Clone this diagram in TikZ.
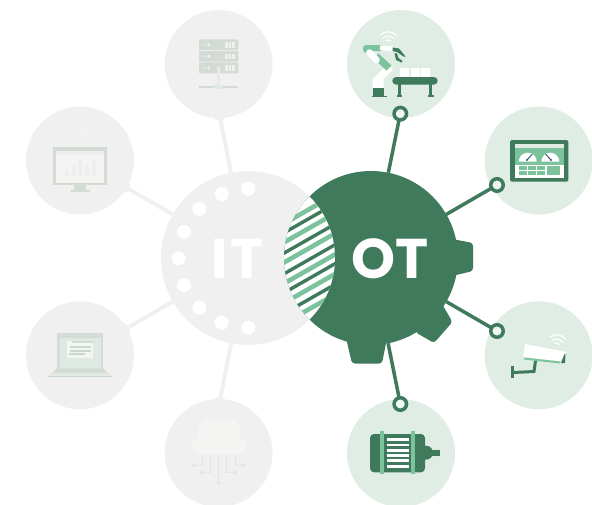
\documentclass[tikz,border=0pt]{standalone}
\usepackage{fontspec}
\newfontfamily\labelfont{Poppins}
\definecolor{dkgreen}{HTML}{3E7A5B}
\definecolor{ltgreen}{HTML}{7CC29C}
\definecolor{palegreen}{HTML}{DFEDE4}
\definecolor{itgray}{HTML}{F0F0F0}
\definecolor{icongray}{HTML}{D4DBD5}
\definecolor{iconpale}{HTML}{DFE9E3}
\definecolor{iconlight}{HTML}{F4F4F2}
\definecolor{iconmid}{HTML}{C9D8CE}
\definecolor{needle}{HTML}{3D5A7A}
\definecolor{pinfill}{HTML}{F0F7F3}
\tikzset{
  sat/.style={circle,inner sep=0pt,outer sep=0pt,minimum size=108pt},
  otsat/.style={sat,fill=palegreen},
  itsat/.style={sat,fill=itgray},
  bigdisc/.style={circle,inner sep=0pt,outer sep=0pt,minimum size=174pt},
  otpin/.style={circle,inner sep=0pt,outer sep=0pt,minimum size=12.5pt,draw=dkgreen,line width=3.5pt,fill=pinfill},
  itpin/.style={circle,inner sep=0pt,outer sep=0pt,minimum size=16pt,fill=itgray},
  otlink/.style={draw=dkgreen,line width=3.5pt},
  itlink/.style={draw=itgray,line width=4pt},
  biglabel/.style={text=white,font=\labelfont\bfseries\fontsize{56}{56}\selectfont,inner sep=0pt},
  wifi/.style={line width=1.2pt,line cap=round},
  hole/.style={fill=white}
}
\newcommand{\arcs}[5]{% x y centreangle colour scale
  \foreach \r in {11.5,7.2,3.4}{
    \draw[wifi,#4] (#1,#2) ++({#3-45}:\r pt) arc[start angle={#3-45},end angle={#3+45},radius=\r pt];
  }}
\begin{document}
\begin{tikzpicture}[x=1pt,y=-1pt]
\useasboundingbox (0,0) rectangle (592,504);
\clip (0,0) rectangle (592,504);
% satellites
\node[otsat] (robot) at (401,64) {};
\node[otsat] (hmi) at (538.7,160.5) {};
\node[otsat] (camera) at (538.7,355.3) {};
\node[otsat] (motor) at (401,453) {};
\node[itsat] (server) at (218.6,64) {};
\node[itsat] (screen) at (80,160.5) {};
\node[itsat] (laptop) at (80,355.3) {};
\node[itsat] (cloud) at (218.6,453) {};
% discs and pins
\node[bigdisc,fill=itgray] (it) at (248,258) {};
\node[itpin] (pin5) at (219,112.5) {};
\node[itpin] (pin6) at (122,185) {};
\node[itpin] (pin7) at (122,331) {};
\node[itpin] (pin8) at (219,405) {};
\draw[itlink] (it) -- (pin5);
\draw[itlink] (it) -- (pin6);
\draw[itlink] (it) -- (pin7);
\draw[itlink] (it) -- (pin8);
\node[bigdisc] (ot) at (371,258) {};
\node[otpin] (pin1) at (400.3,113.7) {};
\node[otpin] (pin2) at (497,185) {};
\node[otpin] (pin3) at (497,331) {};
\node[otpin] (pin4) at (400.3,404) {};
\draw[otlink] (ot) -- (pin1);
\draw[otlink] (ot) -- (pin2);
\draw[otlink] (ot) -- (pin3);
\draw[otlink] (ot) -- (pin4);
% gear
\fill[dkgreen] (371,258) circle (87pt);
\fill[dkgreen,rounded corners=3pt] (452,239) -- (473,243) -- (473,271) -- (452,276) -- cycle;
\fill[dkgreen,rounded corners=3pt] (346,338) -- (352,363.5) -- (382,363.5) -- (387,338) -- cycle;
\fill[dkgreen,rounded corners=3pt] (442,304) -- (452.5,322) -- (434,343) -- (415,332) -- cycle;
% white dots on IT
\foreach \x/\y in {248.3/188.7,221.7/194,199.3/209,184/231.7,178.7/258.3,184/285,199.3/307.7,221.7/322.7,248.3/327.7}
  \fill[hole] (\x,\y) circle (7pt);
% lens
\begin{scope}
\clip (248,258) circle (87pt);
\clip (371,258) circle (87pt);
\fill[white] (270,190) rectangle (350,330);
\foreach \y in {208.8,227.6,247.7,268.7,288.2,308.6}
  \draw[ltgreen,line width=4.6pt] (270,\y+22.8) -- (350,\y-22.8);
\foreach \y in {218,238.3,259,278,298.7}
  \draw[dkgreen,line width=3.4pt] (270,\y+22.8) -- (350,\y-22.8);
\end{scope}
\node[biglabel] (itlabel) at (237.5,258.5) {I\kern2.5pt T};
\node[biglabel] (otlabel) at (390,258.5) {OT};
% ---- robot
\arcs{388.3}{43.3}{90}{white}{1}
\fill[white] (372.5,88.5) -- (383.5,88.5) -- (383.5,79) -- (393,69.5) -- (388,64.5) -- (372.5,79) -- cycle;
\fill[dkgreen] (372.7,88.3) rectangle (384,95.7);
\fill[dkgreen] (372,95.7) rectangle (387,97);
\draw[ltgreen,line width=7pt] (389,68) -- (376,56);
\draw[ltgreen,line width=6pt,line join=round] (367,52) -- (366,48) -- (381,48);
\draw[white,line width=6.5pt,line cap=round] (376.5,60) -- (369.5,52.5);
\draw[white,line width=4.5pt] (380,47.8) -- (393,49);
\fill[dkgreen] (392.5,47.5) -- (399,48.5) -- (405.5,56.5) -- (403.5,56.5) -- (397,52) -- (392.5,51) -- cycle;
\fill[dkgreen] (394.5,53) -- (397,53.5) -- (398.5,58) -- (402.5,61) -- (401.5,62.5) -- (396,60) -- cycle;
\fill[dkgreen,rounded corners=3.8pt] (392.3,77) rectangle (437.7,84.7);
\fill[white] (400,68.3) rectangle (409.3,77);
\fill[white] (410.7,68.3) rectangle (420,77);
\fill[white] (421,68.3) rectangle (430,77);
\fill[dkgreen] (398,84) rectangle (400.7,96);
\fill[dkgreen] (429.3,84) rectangle (432,96);
\fill[dkgreen] (396.7,95) rectangle (402.3,97);
\fill[dkgreen] (428,95) rectangle (433.6,97);
% ---- hmi
\fill[dkgreen,rounded corners=1.5pt] (510,140) rectangle (568.3,181.7);
\fill[palegreen] (515,144) rectangle (564,147.7);
\fill[ltgreen] (515,147.7) rectangle (564,165);
\fill[white] (515,165) rectangle (564,177.5);
\fill[white] (518.7,161.7) arc[start angle=180,end angle=0,radius=9pt] -- cycle;
\fill[white] (541.3,161.7) arc[start angle=180,end angle=0,radius=9pt] -- cycle;
\draw[needle,line width=1pt] (527,160) -- (532.3,154.3);
\draw[needle,line width=1pt] (551,160) -- (545.7,154.3);
\fill[needle] (527,160) circle (1.2pt);
\fill[needle] (551,160) circle (1.2pt);
\foreach \x in {519,528,537}{
  \fill[ltgreen] (\x,166) rectangle (\x+8,170);
  \fill[ltgreen] (\x,170.8) rectangle (\x+8,175);
}
\fill[ltgreen] (547,166) rectangle (560.3,175);
% ---- camera
\arcs{556.7}{346.3}{80}{white}{1}
\fill[white] (525,344) -- (566.7,352) -- (560,361.3) -- (523.3,357.3) -- cycle;
\draw[ltgreen,line width=2pt] (524,358.5) -- (560,362.5);
\fill[dkgreen] (561,363) -- (564.5,354) -- (565.5,354) -- (565,363) -- cycle;
\draw[dkgreen,line width=3pt] (535.5,361) -- (534,371.5) -- (513,372.5);
\draw[dkgreen,line width=2.5pt] (512.7,365.5) -- (512.7,377.5);
% ---- motor
\fill[dkgreen] (426,452.7) circle (7pt);
\fill[dkgreen] (430,450) rectangle (440,455.7);
\fill[dkgreen,rounded corners=4pt] (370,434) rectangle (425,472.3);
\fill[ltgreen] (380,430.7) rectangle (384,474);
\fill[ltgreen] (411,430.7) rectangle (415,474);
\foreach \k in {0,...,5}
  \fill[white] (386.7,438.2+\k*5.3) rectangle (409.3,441+\k*5.3);
% ---- server
\foreach \a/\b in {39.3/50,51/61.7,62.3/73.3}{
  \fill[icongray,rounded corners=1pt] (199,\a) rectangle (238.3,\b);
  \fill[iconpale!70!icongray] (204,{(\a+\b)/2}) circle (1.7pt);
  \fill[itgray] (208.7,{(\a+\b)/2}) circle (1.7pt);
  \foreach \x/\w in {225/2.7,229/2.2,232.3/2.2}
    \fill[itgray] (\x,\a+2.5) rectangle (\x+\w,\b-2.5);
}
\draw[icongray,line width=1.7pt] (199,87.3) -- (238,87.3);
\fill[iconlight!60!icongray] (217,67) rectangle (219.7,86);
\fill[iconpale] (214.3,85) rectangle (223.3,89);
% ---- screen
\fill[icongray] (53.3,147) rectangle (106.7,185);
\fill[iconlight] (55.7,151) rectangle (104.3,183);
\fill[itgray!85!icongray] (55.7,151) rectangle (104.3,155);
\foreach \x/\t in {65/170,71.7/165,78.3/157.7,85/165,91.7/160}
  \fill[itgray!92!icongray] (\x,\t) rectangle (\x+4,176);
\fill[icongray] (74,185) rectangle (86,190.5);
\fill[icongray] (70.7,190) rectangle (90,191.8);
\draw[wifi,iconlight] (80.7,141.7) ++(45:10pt) arc[start angle=45,end angle=135,radius=10pt];
\draw[wifi,iconlight] (80.7,141.7) ++(45:6pt) arc[start angle=45,end angle=135,radius=6pt];
% ---- laptop
\fill[icongray] (57.3,333.3) rectangle (103.3,368.3);
\fill[iconpale] (60,337.7) rectangle (100.7,368.3);
\fill[iconlight] (67.3,340.7) rectangle (93.3,358.3);
\fill[icongray] (72,341) rectangle (93.3,343);
\fill[iconmid] (70,345.7) rectangle (91,347.7);
\fill[iconmid] (70,350) rectangle (91,352);
\fill[iconmid] (69,353.3) rectangle (85,355);
\fill[iconpale] (57.3,368.3) -- (103.3,368.3) -- (111.7,375.7) -- (48.3,375.7) -- cycle;
\fill[icongray] (57.3,368.3) -- (103.3,368.3) -- (107,372.7) -- (53,372.7) -- cycle;
\fill[iconmid] (48.3,375.7) rectangle (111.7,377.3);
% ---- cloud
\fill[iconlight] (210.7,431.7) circle (13pt);
\fill[iconlight] (227.3,431.7) circle (13pt);
\fill[iconlight,rounded corners=7.5pt] (191.7,438) rectangle (246,453.5);
\fill[iconlight] (200,430) rectangle (238,453.5);
\begin{scope}[iconpale,line width=.9pt]
\draw (218.7,453.5) -- (218.7,482.7);
\draw (210.7,453.5) -- (210.7,472.3) -- (201.7,472.3);
\draw (202.7,453.5) -- (202.7,465.3) -- (193.3,465.3);
\draw (226.7,453.5) -- (226.7,472.3) -- (235,472.3);
\draw (235,453.5) -- (235,465.3) -- (243.3,465.3);
\foreach \x/\y in {218.7/482.7,201.7/472.3,193.3/465.3,235/472.3,243.3/465.3}
  \fill (\x,\y) circle (2pt);
\end{scope}
\end{tikzpicture}
\end{document}
